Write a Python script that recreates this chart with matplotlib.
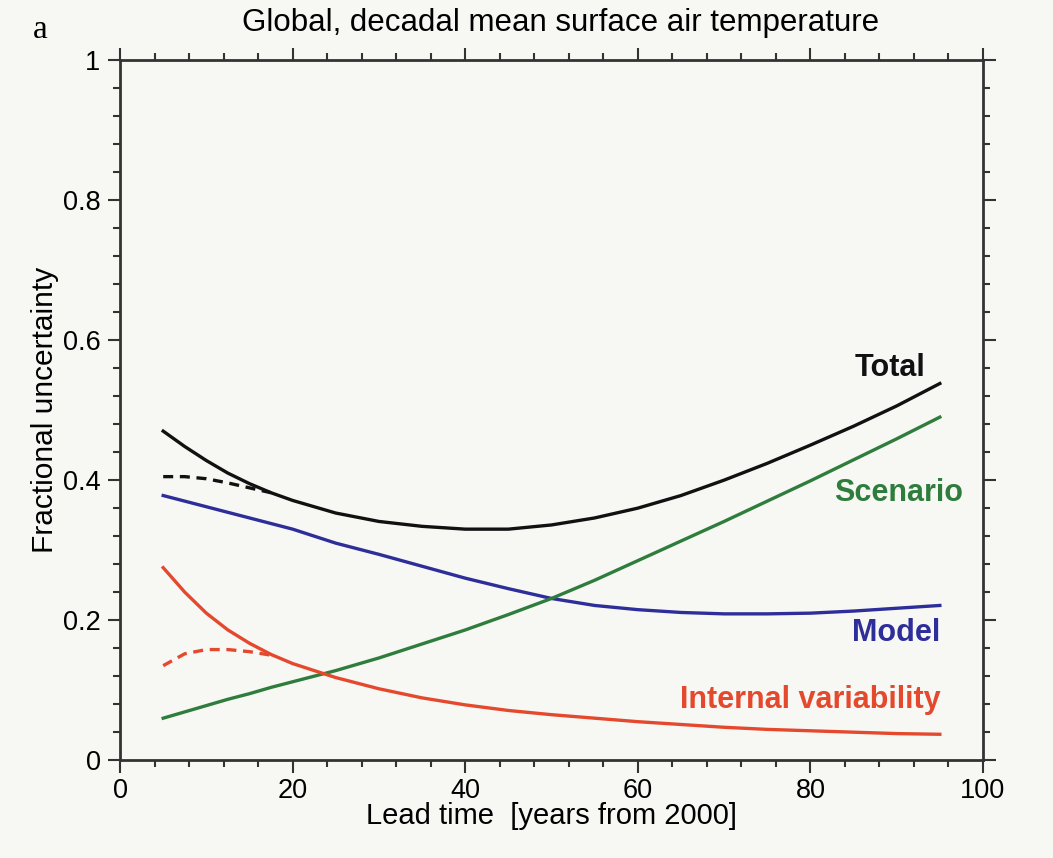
import numpy as np
import matplotlib
matplotlib.use("Agg")
import matplotlib.pyplot as plt
from matplotlib.ticker import MultipleLocator

plt.rcParams['font.family'] = ['Liberation Sans', 'DejaVu Sans']

lead = [5, 7.5, 10, 12.5, 15, 17.5, 20, 25, 30, 35, 40, 45, 50, 55, 60, 65, 70, 75, 80, 85, 90, 95]
total = [0.470, 0.448, 0.428, 0.410, 0.395, 0.382, 0.371, 0.353, 0.341, 0.334, 0.330, 0.330, 0.336, 0.346, 0.360, 0.378, 0.400, 0.424, 0.450, 0.477, 0.506, 0.538]
model = [0.378, 0.370, 0.362, 0.354, 0.346, 0.338, 0.330, 0.310, 0.294, 0.277, 0.260, 0.245, 0.231, 0.221, 0.215, 0.211, 0.209, 0.209, 0.210, 0.213, 0.217, 0.221]
scenario = [0.060, 0.069, 0.078, 0.087, 0.095, 0.104, 0.112, 0.128, 0.146, 0.166, 0.186, 0.208, 0.231, 0.257, 0.285, 0.313, 0.341, 0.370, 0.399, 0.429, 0.459, 0.490]
internal = [0.275, 0.240, 0.210, 0.186, 0.167, 0.151, 0.138, 0.118, 0.102, 0.089, 0.079, 0.071, 0.065, 0.060, 0.055, 0.051, 0.047, 0.044, 0.042, 0.040, 0.038, 0.037]

lead_dash = [5, 7.5, 10, 12.5, 15, 17.5]
total_dash = [0.405, 0.405, 0.402, 0.396, 0.389, 0.382]
internal_dash = [0.135, 0.152, 0.158, 0.158, 0.155, 0.150]

c_total = '#111111'
c_model = '#2e2e9a'
c_scen = '#2f7d3c'
c_int = '#e5492d'

fig = plt.figure(figsize=(10.53, 8.58), dpi=100, facecolor='#f7f7f4')
ax = fig.add_axes([0.114, 0.114, 0.8195, 0.816])
ax.set_facecolor('#f7f7f4')

lw = 2.4
ax.plot(lead, total, color=c_total, lw=lw)
ax.plot(lead_dash, total_dash, color=c_total, lw=lw, ls=(0, (3, 2)))
ax.plot(lead, model, color=c_model, lw=lw)
ax.plot(lead, scenario, color=c_scen, lw=lw)
ax.plot(lead, internal, color=c_int, lw=lw)
ax.plot(lead_dash, internal_dash, color=c_int, lw=lw, ls=(0, (3, 2)))

ax.set_xlim(0, 100)
ax.set_ylim(0, 1)
ax.xaxis.set_major_locator(MultipleLocator(20))
ax.xaxis.set_minor_locator(MultipleLocator(4))
ax.yaxis.set_minor_locator(MultipleLocator(0.04))
ax.set_yticks([0, 0.2, 0.4, 0.6, 0.8, 1.0])
ax.set_yticklabels(['0', '0.2', '0.4', '0.6', '0.8', '1'], fontsize=19.5)
ax.tick_params(axis='x', labelsize=19.5)
ax.tick_params(axis='y', pad=5)
ax.tick_params(which='both', direction='out', top=True, right=True, width=1.5, color='#333333')
ax.tick_params(which='major', length=9)
ax.tick_params(which='minor', length=5)
for s in ax.spines.values():
    s.set_linewidth(2.0)
    s.set_color('#333333')

ax.set_xlabel('Lead time  [years from 2000]', fontsize=21, labelpad=-1)
ax.set_ylabel('Fractional uncertainty', fontsize=21.5, labelpad=3)
fig.text(0.532, 0.973, 'Global, decadal mean surface air temperature', ha='center', va='center', fontsize=22.5)
fig.text(0.038, 0.965, 'a', ha='center', va='center', fontsize=24, family='Liberation Serif')

ax.text(93.3, 0.56, 'Total', color=c_total, fontsize=22, fontweight='bold', ha='right', va='center')
ax.text(97.7, 0.381, 'Scenario', color=c_scen, fontsize=22, fontweight='bold', ha='right', va='center')
ax.text(95.1, 0.181, 'Model', color=c_model, fontsize=22, fontweight='bold', ha='right', va='center')
ax.text(95.1, 0.086, 'Internal variability', color=c_int, fontsize=22, fontweight='bold', ha='right', va='center')

fig.savefig('out.png', dpi=100, facecolor=fig.get_facecolor())
